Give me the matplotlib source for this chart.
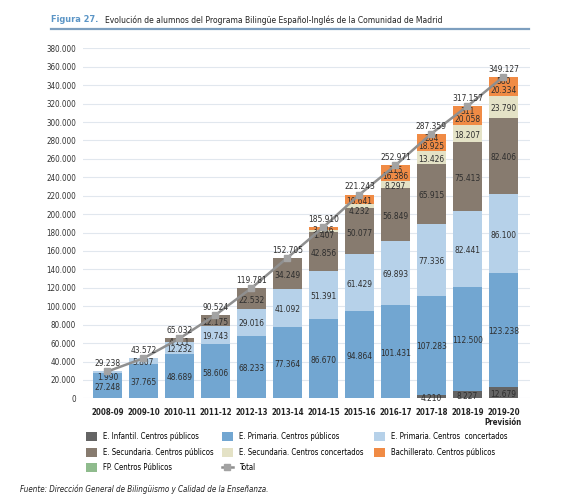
import numpy as np
import matplotlib
matplotlib.use('Agg')
import matplotlib.pyplot as plt
from matplotlib.patches import Patch
from matplotlib.lines import Line2D

plt.rcParams['font.family'] = ['DejaVu Sans']
plt.rcParams['font.stretch'] = 'condensed'

# datos
cursos = ['2008-09', '2009-10', '2010-11', '2011-12', '2012-13', '2013-14',
          '2014-15', '2015-16', '2016-17', '2017-18', '2018-19', '2019-20\nPrevisión']
infantil_pub = [0, 0, 0, 0, 0, 0, 0, 0, 0, 4210, 8227, 12679]
primaria_pub = [27248, 37765, 48689, 58606, 68233, 77364, 86670, 94864, 101431, 107283, 112500, 123238]
primaria_conc = [1990, 5807, 12232, 19743, 29016, 41092, 51391, 61429, 69893, 77336, 82441, 86100]
secundaria_pub = [0, 0, 4111, 12175, 22532, 34249, 42856, 50077, 56849, 65915, 75413, 82406]
secundaria_conc = [0, 0, 0, 0, 0, 0, 1407, 4232, 8297, 13426, 18207, 23790]
bach_pub = [0, 0, 0, 0, 0, 0, 3586, 10641, 16386, 18925, 20058, 20334]
fp_pub = [0, 0, 0, 0, 0, 0, 0, 0, 115, 284, 311, 580]
total = [29238, 43572, 65032, 90524, 119781, 152705, 185910, 221243, 252971, 287359, 317157, 349127]

series = [
    ('E. Infantil. Centros públicos', infantil_pub, '#646464'),
    ('E. Primaria. Centros públicos', primaria_pub, '#72a6d1'),
    ('E. Primaria. Centros  concertados', primaria_conc, '#b6d1e9'),
    ('E. Secundaria. Centros públicos', secundaria_pub, '#877b6f'),
    ('E. Secundaria. Centros concertados', secundaria_conc, '#e4e2c6'),
    ('Bachillerato. Centros públicos', bach_pub, '#f08b45'),
    ('FP. Centros Públicos', fp_pub, '#8fbb8d'),
]


def fmt(v):
    return f'{v:,}'.replace(',', '.')


fig = plt.figure(figsize=(5.68, 5.04), dpi=100)
ax = fig.add_axes([83 / 568, 1 - 398.4 / 504, (530 - 83) / 568, (398.4 - 48.3) / 504])

x = np.arange(len(cursos))
bottom = np.zeros(len(cursos))
for k, (name, vals, col) in enumerate(series):
    vals = np.array(vals, dtype=float)
    ax.bar(x, vals, 0.8, bottom=bottom, color=col, zorder=2)
    for i, v in enumerate(vals):
        if v <= 0:
            continue
        yc = bottom[i] + v / 2
        dy = -1.2
        if v < 3000 or (k == 4 and v < 5000):
            dy = -3.5
        elif k == 5 and fp_pub[i] > 0:
            dy = -2.5
        ax.annotate(fmt(int(v)), (x[i], yc), xytext=(0, dy), textcoords='offset points',
                    ha='center', va='center', fontsize=6, color='#2e2e2e', zorder=4)
    bottom += vals

ax.plot(x, total, color='#8f8f8f', lw=1.8, marker='s', ms=4.5,
        mfc='#a3a3a3', mec='#a3a3a3', zorder=5)
for i, t in enumerate(total):
    ax.annotate(fmt(t), (x[i], t), xytext=(0, 5.5), textcoords='offset points',
                ha='center', va='center', fontsize=6, color='#2e2e2e', zorder=6)

ax.set_xlim(-0.68, 11.74)
ax.set_ylim(0, 380000)
ax.set_yticks(np.arange(0, 380001, 20000))
ax.set_yticklabels([fmt(v) for v in range(0, 380001, 20000)], fontsize=5.8, color='#333333')
ax.set_xticks(x)
ax.set_xticklabels(cursos, fontsize=5.7, fontweight='bold', color='#222222', linespacing=1.15)
ax.tick_params(axis='both', length=0)
ax.tick_params(axis='x', pad=7)
ax.tick_params(axis='y', pad=5)
ax.grid(axis='y', color='#e1e7ee', lw=0.8, zorder=0)
for s in ax.spines.values():
    s.set_visible(False)

# titulo
fig.text(51 / 568, 1 - 20 / 504, 'Figura 27.', fontsize=6.6, fontweight='bold',
         color='#5b95c6', va='center', ha='left')
fig.text(105 / 568, 1 - 20 / 504,
         'Evolución de alumnos del Programa Bilingüe Español-Inglés de la Comunidad de Madrid',
         fontsize=6.1, color='#222222', va='center', ha='left')
fig.add_artist(Line2D([51 / 568, 529 / 568], [1 - 29 / 504, 1 - 29 / 504],
                      color='#7d9fbf', lw=1.6))

# leyenda en tres columnas
cols = [
    (86, [0, 3, 6]),
    (222, [1, 4, None]),
    (374, [2, 5]),
]
for xpos, idxs in cols:
    handles = []
    for k in idxs:
        if k is None:
            handles.append(Line2D([], [], color='#8f8f8f', lw=1.8, marker='s', ms=4.5,
                                  mfc='#a3a3a3', mec='#a3a3a3', label='Total'))
        else:
            name, _, col = series[k]
            handles.append(Patch(facecolor=col, edgecolor='none', label=name))
    fig.legend(handles=handles, loc='upper left',
               bbox_to_anchor=(xpos / 568, 1 - 432 / 504), frameon=False,
               fontsize=5.6, handlelength=1.4, handleheight=1.4, handletextpad=0.75,
               labelspacing=0.85, borderpad=0, borderaxespad=0)

fig.text(20 / 568, 1 - 489 / 504,
         'Fuente: Dirección General de Bilingüismo y Calidad de la Enseñanza.',
         fontsize=5.8, style='italic', color='#222222', va='center', ha='left')

fig.savefig('out.png', dpi=100, facecolor='white')
